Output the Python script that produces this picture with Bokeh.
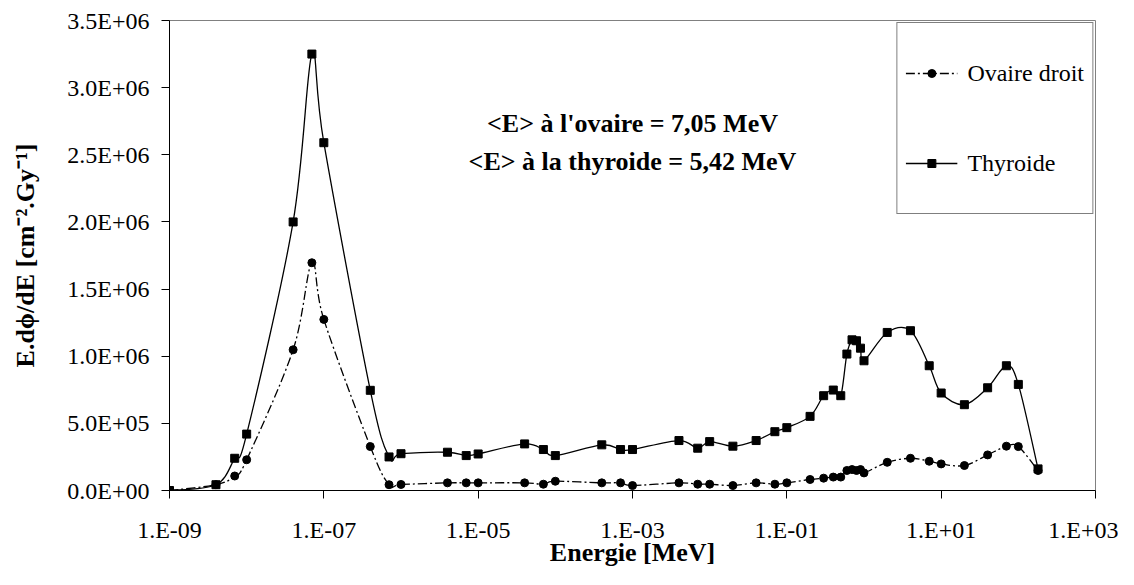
import numpy as np
from bokeh.plotting import figure
from bokeh.models import FixedTicker, Legend, LegendItem, Label, Range1d, ColumnDataSource
from bokeh.embed import file_html
from bokeh.resources import INLINE

# ---- data ----
energy = [1e-9, 4e-9, 7e-9, 1e-8, 4e-8, 7e-8, 1e-7, 4e-7, 7e-7, 1e-6,
          4e-6, 7e-6, 1e-5, 4e-5, 7e-5, 1e-4, 4e-4, 7e-4, 1e-3, 4e-3,
          7e-3, 1e-2, 2e-2, 4e-2, 7e-2, 0.1, 0.2, 0.3, 0.4, 0.5,
          0.6, 0.7, 0.8, 0.9, 1.0, 2.0, 4.0, 7.0, 10.0, 20.0,
          40.0, 70.0, 100.0, 180.0]
thyroide = [0, 43000, 240000, 420000, 2000000, 3250000, 2590000, 746000, 250000, 274000,
            285000, 260000, 272000, 347000, 305000, 260000, 340000, 305000, 305000, 372000,
            315000, 364000, 330000, 372000, 438000, 468000, 552000, 706000, 748000, 706000,
            1016000, 1122000, 1115000, 1060000, 966000, 1177000, 1190000, 929000, 726000, 639000,
            765000, 929000, 790000, 161000]
ovaire = [0, 43000, 108000, 229000, 1048000, 1696000, 1274000, 327000, 43000, 45000,
          57000, 57000, 57000, 57000, 47000, 69000, 57000, 57000, 37000, 57000,
          47000, 47000, 37000, 57000, 47000, 57000, 82000, 92000, 100000, 100000,
          149000, 156000, 149000, 156000, 131000, 210000, 240000, 218000, 198000, 186000,
          265000, 330000, 327000, 149000]
series_names = ["Ovaire droit", "Thyroide"]

x_ticks = [1e-9, 1e-7, 1e-5, 1e-3, 1e-1, 1e1, 1e3]
x_tick_labels = ["1.E-09", "1.E-07", "1.E-05", "1.E-03", "1.E-01", "1.E+01", "1.E+03"]
y_ticks = [0, 500000, 1000000, 1500000, 2000000, 2500000, 3000000, 3500000]
y_tick_labels = ["0.0E+00", "5.0E+05", "1.0E+06", "1.5E+06", "2.0E+06", "2.5E+06", "3.0E+06", "3.5E+06"]

annotation_lines = ["<E> à l'ovaire = 7,05 MeV", "<E> à la thyroide = 5,42 MeV"]

FONT = "'Liberation Serif', 'Times New Roman', Times, serif"


def smooth_segments(xs, ys):
    """Bezier segments (Excel-like smoothed line) in log-x space."""
    lx = np.log10(np.asarray(xs, float))
    y = np.asarray(ys, float)
    n = len(lx)
    d = {k: [] for k in ["x0", "y0", "x1", "y1", "cx0", "cy0", "cx1", "cy1"]}
    for i in range(n - 1):
        p = max(i - 1, 0)
        q = min(i + 2, n - 1)
        c0x = lx[i] + (lx[i + 1] - lx[p]) / 6.0
        c0y = y[i] + (y[i + 1] - y[p]) / 6.0
        c1x = lx[i + 1] - (lx[q] - lx[i]) / 6.0
        c1y = y[i + 1] - (y[q] - y[i]) / 6.0
        d["x0"].append(10 ** lx[i]); d["y0"].append(y[i])
        d["x1"].append(10 ** lx[i + 1]); d["y1"].append(y[i + 1])
        d["cx0"].append(10 ** c0x); d["cy0"].append(c0y)
        d["cx1"].append(10 ** c1x); d["cy1"].append(c1y)
    return ColumnDataSource(d)


p = figure(width=1118, height=569, x_axis_type="log",
           x_range=Range1d(1e-9, 1e3), y_range=Range1d(0, 3.5e6),
           output_backend="svg", toolbar_location=None,
           min_border_left=169, min_border_right=23, min_border_top=20, min_border_bottom=78)
p.background_fill_color = "white"
p.border_fill_color = "white"
p.outline_line_color = "#808080"
p.xgrid.visible = False
p.ygrid.visible = False

ov_line = p.bezier(x0="x0", y0="y0", x1="x1", y1="y1", cx0="cx0", cy0="cy0", cx1="cx1", cy1="cy1",
                   source=smooth_segments(energy, ovaire), line_color="black", line_width=1.3,
                   line_dash="9 3 2 3")
ov_pts = p.scatter(energy, ovaire, marker="circle", size=8, fill_color="black", line_color="black")
th_line = p.bezier(x0="x0", y0="y0", x1="x1", y1="y1", cx0="cx0", cy0="cy0", cx1="cx1", cy1="cy1",
                   source=smooth_segments(energy, thyroide), line_color="black", line_width=1.3)
th_pts = p.scatter(energy, thyroide, marker="square", size=8, fill_color="black", line_color="black")

# axes
p.xaxis.ticker = FixedTicker(ticks=x_ticks, minor_ticks=[])
p.xaxis.major_label_overrides = {float(t): l for t, l in zip(x_ticks, x_tick_labels)}
p.yaxis.ticker = FixedTicker(ticks=y_ticks, minor_ticks=[])
p.yaxis.major_label_overrides = {float(t): l for t, l in zip(y_ticks, y_tick_labels)}
for ax in (p.xaxis[0], p.yaxis[0]):
    ax.axis_line_color = "black"
    ax.axis_line_width = 1
    ax.major_tick_line_color = "black"
    ax.major_tick_out = 8
    ax.major_tick_in = 0
    ax.minor_tick_line_color = None
    ax.major_label_text_font = FONT
    ax.major_label_text_font_size = "24px"
    ax.major_label_text_color = "black"
    ax.axis_label_text_font = FONT
    ax.axis_label_text_font_size = "26px"
    ax.axis_label_text_font_style = "bold"
    ax.axis_label_text_color = "black"
p.xaxis.axis_label = "Energie [MeV]"
p.yaxis.axis_label = "E.dϕ/dE [cm⁻².Gy⁻¹]"
p.xaxis.major_label_standoff = 18
p.xaxis.axis_label_standoff = -8
p.yaxis.major_label_standoff = 12
p.yaxis.axis_label_standoff = 24
p.yaxis.major_label_orientation = "horizontal"

# annotation text
for txt, yv in zip(annotation_lines, [2.732e6, 2.447e6]):
    p.add_layout(Label(x=1e-3, y=yv, text=txt, text_align="center", text_baseline="middle",
                       text_font=FONT, text_font_style="bold", text_font_size="26px",
                       text_color="black"))

legend = Legend(items=[LegendItem(label=series_names[0], renderers=[ov_line, ov_pts]),
                       LegendItem(label=series_names[1], renderers=[th_line, th_pts])],
                location="top_right", margin=2, padding=8, spacing=6,
                glyph_width=52, glyph_height=20, label_height=84, label_standoff=10,
                label_text_font=FONT, label_text_font_size="24px", label_text_color="black",
                border_line_color="black", border_line_width=1,
                background_fill_color="white", background_fill_alpha=1.0)
p.add_layout(legend)

open("out.html", "w").write(file_html(p, INLINE))
